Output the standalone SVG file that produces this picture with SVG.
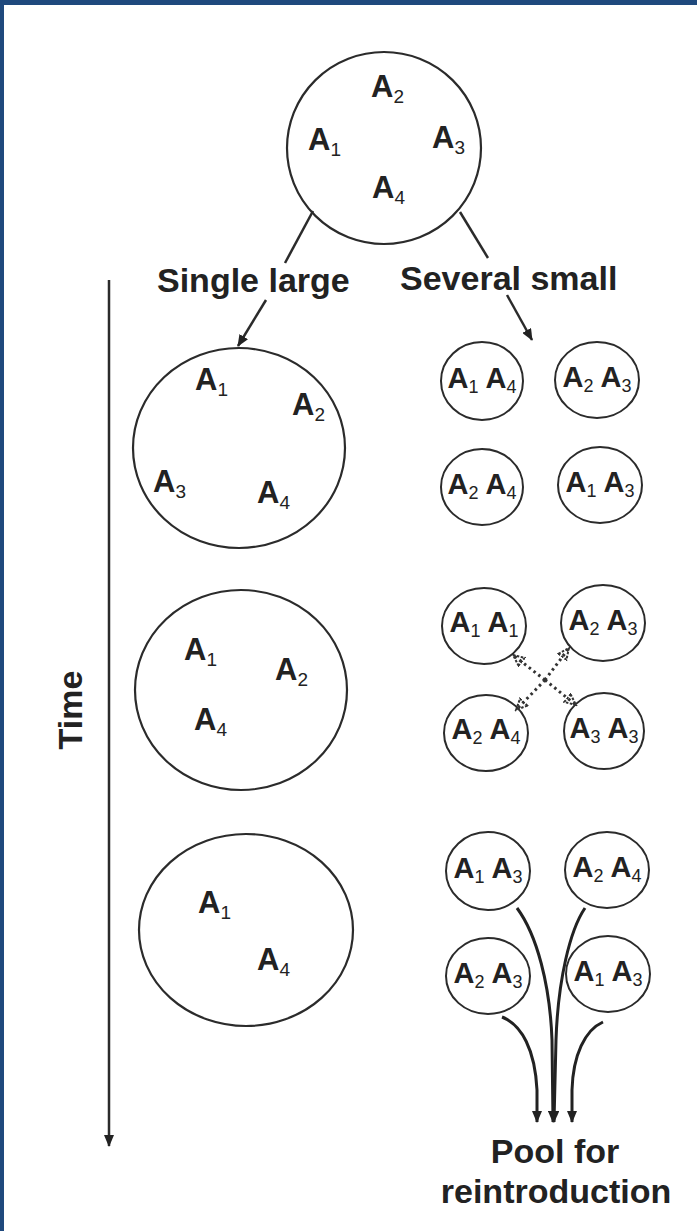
<svg xmlns="http://www.w3.org/2000/svg" width="697" height="1231" viewBox="0 0 697 1231">
<style>
.c{fill:none;stroke:#2b2b2b;stroke-width:2.2}
.cs{fill:none;stroke:#2b2b2b;stroke-width:2}
.t{font-family:"Liberation Sans",Arial,sans-serif;font-weight:bold;fill:#222}
.lab{font-size:34px}
.ab{font-size:31px}
.as{font-size:29px}
.sb{font-size:19px;font-weight:normal}
.ss{font-size:18px;font-weight:normal}
.ln{fill:none;stroke:#2b2b2b;stroke-width:2.5}
.cv{fill:none;stroke:#222;stroke-width:3}
.dt{fill:none;stroke:#333;stroke-width:3;stroke-dasharray:2.5 3.5}
</style>
<defs>
<marker id="ah" markerUnits="userSpaceOnUse" markerWidth="12" markerHeight="10" refX="11" refY="5" orient="auto">
<path d="M0,0 L12,5 L0,10 z" fill="#222"/>
</marker>
<marker id="ao" markerUnits="userSpaceOnUse" markerWidth="14" markerHeight="14" refX="12" refY="6" orient="auto">
<path d="M1,1 L12,6 L1,11 z" fill="none" stroke="#333" stroke-width="2" stroke-dasharray="2.5 1.5"/>
</marker>
</defs>
<rect width="697" height="1231" fill="#fff"/>
<rect x="0" y="0" width="697" height="5" fill="#1f497d"/>
<rect x="0" y="0" width="4" height="1231" fill="#1f497d"/>

<g id="top">
<ellipse class="c" cx="384" cy="148" rx="97" ry="96"/>
<text class="t ab" x="371" y="97">A<tspan class="sb" dy="6">2</tspan></text>
<text class="t ab" x="308" y="150">A<tspan class="sb" dy="6">1</tspan></text>
<text class="t ab" x="432" y="148">A<tspan class="sb" dy="6">3</tspan></text>
<text class="t ab" x="372" y="198">A<tspan class="sb" dy="6">4</tspan></text>
</g>

<g id="labels">
<text class="t lab" x="157" y="292">Single large</text>
<text class="t lab" x="400" y="290">Several small</text>
<text class="t lab" transform="translate(82,710) rotate(-90)" text-anchor="middle">Time</text>
<text class="t lab" x="555" y="1163" text-anchor="middle">Pool for</text>
<text class="t lab" x="556" y="1203" text-anchor="middle">reintroduction</text>
</g>

<g id="large1">
<ellipse class="c" cx="239" cy="448" rx="106" ry="100"/>
<text class="t ab" x="195" y="390">A<tspan class="sb" dy="6">1</tspan></text>
<text class="t ab" x="292" y="415">A<tspan class="sb" dy="6">2</tspan></text>
<text class="t ab" x="153" y="492">A<tspan class="sb" dy="6">3</tspan></text>
<text class="t ab" x="257" y="503">A<tspan class="sb" dy="6">4</tspan></text>
</g>
<g id="large2">
<ellipse class="c" cx="241" cy="690" rx="106" ry="100"/>
<text class="t ab" x="184" y="660">A<tspan class="sb" dy="6">1</tspan></text>
<text class="t ab" x="275" y="680">A<tspan class="sb" dy="6">2</tspan></text>
<text class="t ab" x="194" y="730">A<tspan class="sb" dy="6">4</tspan></text>
</g>
<g id="large3">
<ellipse class="c" cx="246" cy="930" rx="107" ry="96"/>
<text class="t ab" x="198" y="913">A<tspan class="sb" dy="6">1</tspan></text>
<text class="t ab" x="257" y="970">A<tspan class="sb" dy="6">4</tspan></text>
</g>

<g id="s11"><ellipse class="cs" cx="482" cy="381" rx="41" ry="39"/>
<text class="t as" x="482" y="388" text-anchor="middle">A<tspan class="ss" dy="5">1</tspan><tspan dy="-5"> A</tspan><tspan class="ss" dy="5">4</tspan></text></g>
<g id="s12"><ellipse class="cs" cx="597" cy="380" rx="42" ry="38"/>
<text class="t as" x="597" y="387" text-anchor="middle">A<tspan class="ss" dy="5">2</tspan><tspan dy="-5"> A</tspan><tspan class="ss" dy="5">3</tspan></text></g>
<g id="s13"><ellipse class="cs" cx="482" cy="487" rx="41" ry="38"/>
<text class="t as" x="482" y="494" text-anchor="middle">A<tspan class="ss" dy="5">2</tspan><tspan dy="-5"> A</tspan><tspan class="ss" dy="5">4</tspan></text></g>
<g id="s14"><ellipse class="cs" cx="600" cy="485" rx="42" ry="38"/>
<text class="t as" x="600" y="492" text-anchor="middle">A<tspan class="ss" dy="5">1</tspan><tspan dy="-5"> A</tspan><tspan class="ss" dy="5">3</tspan></text></g>

<g id="s21"><ellipse class="cs" cx="484" cy="626" rx="42" ry="38"/>
<text class="t as" x="484" y="632" text-anchor="middle">A<tspan class="ss" dy="5">1</tspan><tspan dy="-5"> A</tspan><tspan class="ss" dy="5">1</tspan></text></g>
<g id="s22"><ellipse class="cs" cx="603" cy="623" rx="42" ry="38"/>
<text class="t as" x="603" y="630" text-anchor="middle">A<tspan class="ss" dy="5">2</tspan><tspan dy="-5"> A</tspan><tspan class="ss" dy="5">3</tspan></text></g>
<g id="s23"><ellipse class="cs" cx="486" cy="733" rx="42" ry="38"/>
<text class="t as" x="486" y="739" text-anchor="middle">A<tspan class="ss" dy="5">2</tspan><tspan dy="-5"> A</tspan><tspan class="ss" dy="5">4</tspan></text></g>
<g id="s24"><ellipse class="cs" cx="604" cy="731" rx="40" ry="38"/>
<text class="t as" x="604" y="738" text-anchor="middle">A<tspan class="ss" dy="5">3</tspan><tspan dy="-5"> A</tspan><tspan class="ss" dy="5">3</tspan></text></g>

<g id="s31"><ellipse class="cs" cx="488" cy="871" rx="42" ry="39"/>
<text class="t as" x="488" y="878" text-anchor="middle">A<tspan class="ss" dy="5">1</tspan><tspan dy="-5"> A</tspan><tspan class="ss" dy="5">3</tspan></text></g>
<g id="s32"><ellipse class="cs" cx="607" cy="870" rx="42" ry="38"/>
<text class="t as" x="607" y="877" text-anchor="middle">A<tspan class="ss" dy="5">2</tspan><tspan dy="-5"> A</tspan><tspan class="ss" dy="5">4</tspan></text></g>
<g id="s33"><ellipse class="cs" cx="488" cy="976" rx="42" ry="38"/>
<text class="t as" x="488" y="983" text-anchor="middle">A<tspan class="ss" dy="5">2</tspan><tspan dy="-5"> A</tspan><tspan class="ss" dy="5">3</tspan></text></g>
<g id="s34"><ellipse class="cs" cx="608" cy="974" rx="42" ry="38"/>
<text class="t as" x="608" y="981" text-anchor="middle">A<tspan class="ss" dy="5">1</tspan><tspan dy="-5"> A</tspan><tspan class="ss" dy="5">3</tspan></text></g>

<g id="connectors">
<line class="ln" x1="313" y1="211" x2="285" y2="263"/>
<line class="ln" x1="460" y1="212" x2="488" y2="258"/>
<line class="ln" x1="266" y1="300" x2="238" y2="346" marker-end="url(#ah)"/>
<line class="ln" x1="507" y1="295" x2="532" y2="340" marker-end="url(#ah)"/>
<line class="ln" x1="109" y1="280" x2="109" y2="1146" marker-end="url(#ah)"/>
<path class="dt" d="M545,680 L513,655" marker-end="url(#ao)"/>
<path class="dt" d="M545,680 L569,648" marker-end="url(#ao)"/>
<path class="dt" d="M545,680 L516,710" marker-end="url(#ao)"/>
<path class="dt" d="M545,680 L576,705" marker-end="url(#ao)"/>
<path class="cv" d="M517,908 C537,935 550,985 552,1040 L553,1122" marker-end="url(#ah)"/>
<path class="cv" d="M585,908 C570,930 558,980 556,1040 L554,1122" marker-end="url(#ah)"/>
<path class="cv" d="M502,1017 C522,1025 535,1050 537,1090 L537,1122" marker-end="url(#ah)"/>
<path class="cv" d="M603,1022 C585,1030 573,1055 572,1090 L572,1122" marker-end="url(#ah)"/>
</g>
</svg>
